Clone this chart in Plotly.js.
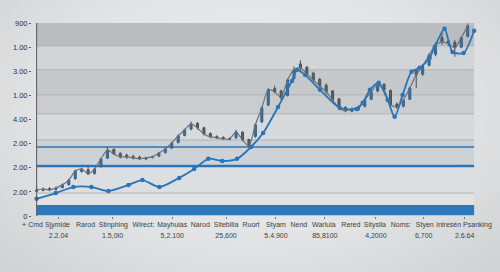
<!DOCTYPE html>
<html>
<head>
<meta charset="utf-8">
<script src="https://cdn.plot.ly/plotly-3.0.1.min.js"></script>
<style>
html,body{margin:0;padding:0;}
body{width:500px;height:272px;overflow:hidden;
background:radial-gradient(ellipse at 50% 40%, #eeefef 0%, #e2e4e5 55%, #cfd2d3 100%);}
#chart{width:500px;height:272px;}
</style>
</head>
<body>
<div id="chart"></div>
<script>
// ---- tick labels ----
const yTickVals = [0, 1, 2, 3, 4, 5, 6, 7, 8];
const yTickText = ["0", "2.00", "2.00", "2.00", "4.00", "1.00", "3.00", "1.00", "900"];

const categoryPos = [-0.16,0.81,1.90,2.98,4.15,5.27,6.36,7.36,8.33,9.30,10.19,11.16,12.21,13.14,14.15,15.08,16.01,17.13];
const categoryNames = ["+ Cmd","Sjymide","Rarod","Stinphing","Wirect:","Mayhuias","Narod","Sitebilla","Ruort","Styam","Nend","Warlula","Rered","Sityslla","Noms:","Styen","Inlresén","Psanking"];

const numberPos = [0.85, 2.95, 5.27, 7.36, 9.30, 11.2, 13.18, 15.04, 16.63];
const numberLabels = ["2.2.04","1.5,0l0","5,2.100","25,600","5.4.900","85,8100","4,2000","6,700","2.6.64"];

// ---- candlestick series ----
const candleX = [0,0.25,0.5,0.75,1,1.25,1.5,1.75,2,2.25,2.5,2.75,3,3.25,3.5,3.75,4,4.25,4.5,4.75,5,5.25,5.5,5.75,6,6.25,6.5,6.75,7,7.25,7.5,7.75,8,8.25,8.5,8.75,9,9.25,9.5,9.75,10,10.25,10.5,10.75,11,11.25,11.5,11.75,12,12.25,12.5,12.75,13,13.25,13.5,13.75,14,14.25,14.5,14.75,15,15.25,15.5,15.75,16,16.25,16.5,16.75];
const candleOpen = [1.02,1.06,1.14,1.10,1.18,1.30,1.55,1.84,1.92,1.76,2.05,2.40,2.76,2.60,2.52,2.47,2.44,2.36,2.43,2.48,2.63,2.82,3.05,3.34,3.60,3.84,3.66,3.42,3.30,3.26,3.18,3.24,3.47,3.17,3.30,3.90,4.60,5.28,5.18,5.00,5.70,6.30,6.16,5.92,5.66,5.42,5.18,4.85,4.50,4.34,4.40,4.55,4.84,5.18,5.46,5.20,4.64,4.55,4.84,6.05,5.88,6.25,6.70,7.40,7.25,7.20,7.00,7.45];
const candleHigh = [1.25,1.18,1.20,1.22,1.34,1.55,1.92,2.00,2.05,2.00,2.42,2.86,2.80,2.64,2.58,2.54,2.50,2.46,2.50,2.66,2.84,3.08,3.38,3.62,3.92,3.90,3.70,3.46,3.34,3.30,3.26,3.58,3.52,3.20,3.84,4.55,5.30,5.40,5.24,5.70,6.20,6.45,6.22,5.98,5.72,5.50,5.22,4.90,4.55,4.50,4.58,4.86,5.20,5.52,5.50,5.25,4.70,4.86,5.36,6.10,6.30,6.75,7.20,7.60,7.30,7.30,7.45,7.98];
const candleLow = [0.98,1.02,1.03,1.06,1.14,1.26,1.50,1.80,1.70,1.72,2.00,2.36,2.52,2.38,2.36,2.34,2.32,2.31,2.38,2.44,2.58,2.78,3.00,3.30,3.55,3.58,3.34,3.22,3.20,3.15,3.14,3.20,3.10,2.86,3.24,3.85,4.55,5.08,4.80,4.95,5.65,5.95,5.80,5.55,5.28,5.05,4.72,4.40,4.30,4.30,4.36,4.50,4.80,5.12,5.18,4.55,4.45,4.50,4.80,5.30,5.80,6.20,6.62,7.10,7.05,6.60,6.95,7.40];
const candleClose = [1.08,1.12,1.08,1.16,1.29,1.49,1.87,1.95,1.74,1.95,2.37,2.74,2.57,2.45,2.45,2.41,2.37,2.41,2.45,2.61,2.78,3.03,3.32,3.57,3.82,3.65,3.40,3.28,3.24,3.20,3.20,3.49,3.15,2.90,3.78,4.48,5.23,5.15,4.90,5.64,6.06,6.14,5.89,5.64,5.39,5.15,4.81,4.48,4.36,4.44,4.52,4.81,5.15,5.44,5.23,4.61,4.52,4.81,5.31,5.85,6.22,6.68,7.10,7.22,7.14,6.97,7.39,7.88];

// ---- blue line series ----
const blueX = [0,0.74,1.43,2.13,2.79,3.57,4.11,4.77,5.54,6.12,6.67,7.21,7.79,8.33,8.80,9.38,9.92,10.12,10.43,11.01,11.78,12.44,12.67,12.95,13.29,13.64,13.91,14.22,14.57,14.88,15.27,15.47,15.85,16.16,16.59,17.0];
const blueY = [0.71,0.95,1.20,1.20,1.04,1.29,1.49,1.20,1.58,1.95,2.37,2.28,2.37,2.86,3.44,4.52,5.60,6.06,5.85,5.23,4.48,4.44,4.69,5.23,5.52,4.81,4.11,5.02,5.98,6.14,6.56,7.01,7.76,6.80,6.76,7.68];

// ---- background bands (value ranges) ----
const plotStart = 0, plotEnd = 17;
const bandLows  = [7.05, 6.06, 5.02, 4.23, 3.15, 2.12, 0.95, 0.50, 0];
const bandHighs = [8.00, 7.05, 6.06, 5.02, 4.23, 3.15, 2.12, 0.95, 0.50];
const bandColors = ["#b9bdc0","#d2d5d7","#c5c9cc","#c9cdd0","#d7dadc","#cdd2d6","#dcdfe1","#e1e3e4","#e1e3e4"];
const bandLines = [7.05, 6.06, 5.02, 4.23, 3.15, 0.95];
const blueBar = [0.04, 0.46];
const blueRules = [2.86, 2.07];
const blueRuleWidths = [1.3, 2.4];

const shapes = [];
bandLows.forEach((lo, i) => {
  shapes.push({type:'rect', xref:'x', yref:'y', x0:plotStart, x1:plotEnd, y0:lo, y1:bandHighs[i],
    fillcolor:bandColors[i], line:{width:0}, layer:'below'});
});
bandLines.forEach(v => {
  shapes.push({type:'line', xref:'x', yref:'y', x0:plotStart, x1:plotEnd, y0:v, y1:v,
    line:{color:'#aeb3b7', width:1}, layer:'below'});
});
shapes.push({type:'rect', xref:'x', yref:'y', x0:plotStart, x1:plotEnd, y0:blueBar[0], y1:blueBar[1],
  fillcolor:'#2a78bd', line:{width:0}, layer:'below'});
blueRules.forEach((v, i) => {
  shapes.push({type:'line', xref:'x', yref:'y', x0:plotStart, x1:plotEnd, y0:v, y1:v,
    line:{color:'#2d72b3', width:blueRuleWidths[i]}, layer:'below'});
});
// axis lines
shapes.push({type:'line', xref:'x', yref:'y', x0:plotStart, x1:plotStart, y0:0, y1:8,
  line:{color:'#555a5e', width:1}, layer:'above'});
shapes.push({type:'line', xref:'x', yref:'y', x0:plotStart, x1:plotEnd, y0:0, y1:0,
  line:{color:'#9aa0a4', width:1}, layer:'above'});

const traces = [
  {type:'scatter', mode:'lines', x:candleX, y:candleClose,
   line:{color:'#6e737a', width:1.2, shape:'spline', smoothing:0.6},
   hoverinfo:'skip', showlegend:false},
  {type:'candlestick', x:candleX, open:candleOpen, high:candleHigh, low:candleLow, close:candleClose,
   increasing:{line:{color:'#35608a', width:1}, fillcolor:'#41709e'},
   decreasing:{line:{color:'#4a5058', width:1}, fillcolor:'#5c6269'},
   whiskerwidth:0, showlegend:false, hoverinfo:'skip'},
  {type:'scatter', mode:'lines+markers', x:blueX, y:blueY,
   line:{color:'#2b74b7', width:1.8, shape:'spline', smoothing:0.7},
   marker:{color:'#2b74b7', size:4.5},
   hoverinfo:'skip', showlegend:false},
  {type:'scatter', mode:'markers', x:numberPos, y:numberPos.map(() => null), xaxis:'x2',
   hoverinfo:'skip', showlegend:false}
];

const tickFontFamily = 'Liberation Sans, Arial, sans-serif';
const xRange = [-0.18, 17.15];

const layout = {
  width:500, height:272,
  margin:{l:32, r:22, t:23, b:56},
  paper_bgcolor:'rgba(0,0,0,0)',
  plot_bgcolor:'rgba(0,0,0,0)',
  showlegend:false,
  boxgap:0.55,
  font:{family:tickFontFamily, size:8, color:'#3c3f42'},
  xaxis:{range:xRange, tickvals:categoryPos, ticktext:categoryNames, tickangle:0,
    showgrid:false, zeroline:false, showline:false,
    ticks:'', ticklabelstandoff:3, tickfont:{family:tickFontFamily, size:7, color:'#3c3f42'},
    rangeslider:{visible:false}, fixedrange:true},
  xaxis2:{range:xRange, overlaying:'x', anchor:'y', side:'bottom', tickangle:0,
    tickvals:numberPos, ticktext:numberLabels, showgrid:false, zeroline:false, showline:false,
    ticks:'outside', ticklen:2, tickcolor:'#777', ticklabelstandoff:11,
    tickfont:{family:tickFontFamily, size:7, color:'#3c3f42'}, fixedrange:true},
  yaxis:{range:[0,8], tickvals:yTickVals, ticktext:yTickText,
    showgrid:false, zeroline:false, showline:false,
    ticks:'outside', ticklen:2, tickcolor:'#555a5e',
    tickfont:{family:tickFontFamily, size:7.5, color:'#2f3235'}, fixedrange:true},
  shapes:shapes
};

Plotly.newPlot('chart', traces, layout, {displayModeBar:false, staticPlot:true});
</script>
</body>
</html>
